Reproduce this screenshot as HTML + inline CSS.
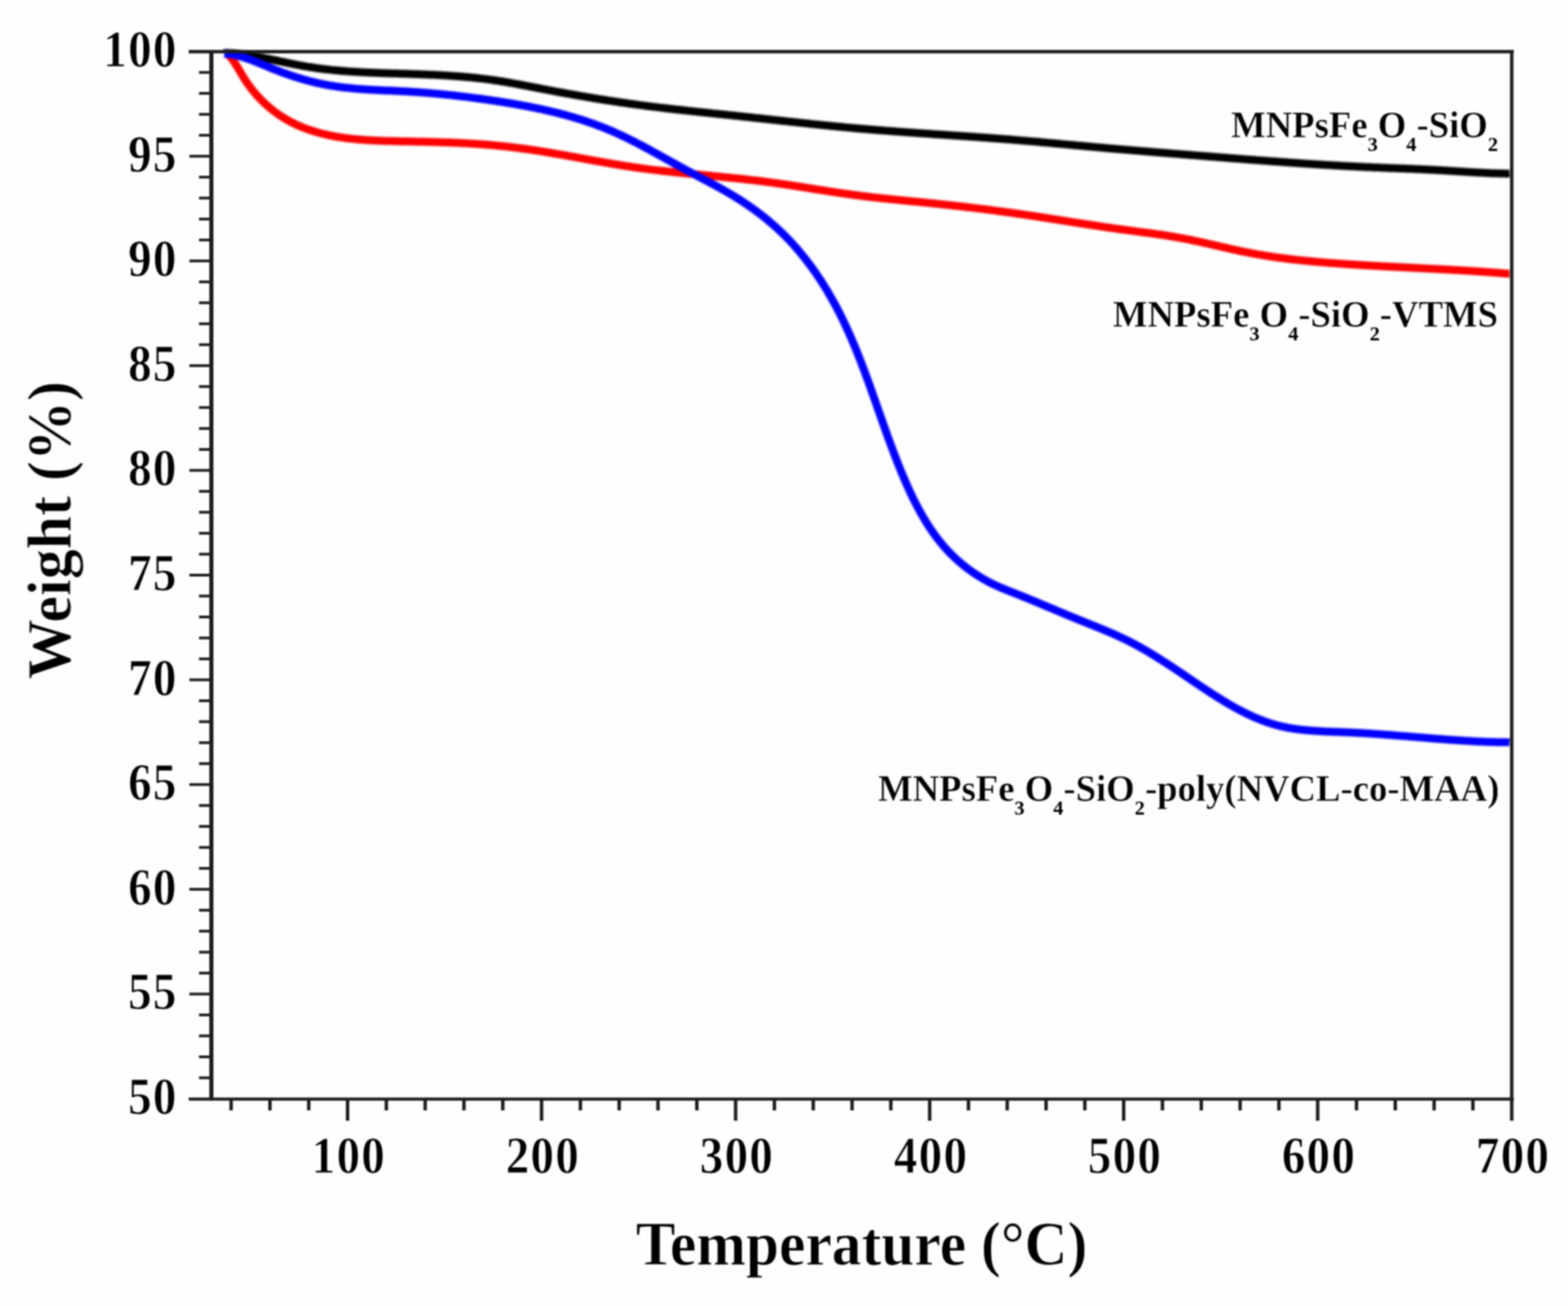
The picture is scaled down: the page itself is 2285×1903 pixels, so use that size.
<!DOCTYPE html>
<html><head><meta charset="utf-8"><title>TGA</title>
<style>html,body{margin:0;padding:0;background:#fefefe;overflow:hidden}svg{display:block}</style>
</head><body>
<svg width="2285" height="1903" viewBox="0 0 2285 1903">
<rect width="2285" height="1903" fill="#fefefe"/>
<defs><filter id="soft" x="-2%" y="-2%" width="104%" height="104%" color-interpolation-filters="sRGB"><feGaussianBlur stdDeviation="0.9"/></filter><filter id="soft2" x="-2%" y="-2%" width="104%" height="104%" color-interpolation-filters="sRGB"><feGaussianBlur stdDeviation="1.3"/></filter></defs>
<g filter="url(#soft)">
<g filter="url(#soft2)">
<path d="M327.0,77.8 L328.8,77.1 L330.8,77.2 L332.8,77.3 L334.8,77.4 L336.7,77.5 L338.7,77.7 L340.7,77.8 L342.7,78.0 L344.7,78.2 L346.6,78.4 L348.6,78.6 L350.6,78.9 L352.6,79.1 L354.5,79.4 L356.5,79.6 L358.5,79.9 L360.5,80.2 L362.5,80.5 L364.4,80.8 L366.4,81.1 L368.4,81.5 L370.4,81.8 L372.3,82.2 L374.3,82.5 L376.3,82.9 L378.3,83.2 L380.3,83.6 L382.2,84.0 L384.2,84.4 L386.2,84.8 L388.2,85.2 L390.1,85.6 L392.1,86.0 L394.1,86.4 L396.1,86.8 L398.1,87.2 L400.0,87.6 L402.0,88.0 L404.0,88.4 L406.0,88.9 L407.9,89.3 L409.9,89.7 L411.9,90.1 L413.9,90.5 L415.9,90.9 L417.8,91.4 L419.8,91.8 L421.8,92.2 L423.8,92.6 L425.8,93.0 L427.7,93.4 L429.7,93.8 L431.7,94.2 L433.7,94.6 L435.6,94.9 L437.6,95.3 L439.6,95.7 L441.6,96.0 L443.6,96.4 L445.5,96.7 L447.5,97.1 L449.5,97.4 L451.5,97.7 L453.5,98.0 L455.4,98.3 L457.4,98.6 L459.4,98.9 L461.4,99.2 L463.3,99.5 L465.3,99.7 L467.3,100.0 L469.3,100.3 L471.3,100.5 L473.2,100.7 L475.2,101.0 L477.2,101.2 L479.2,101.4 L481.2,101.6 L483.1,101.9 L485.1,102.1 L487.1,102.3 L489.1,102.5 L491.1,102.6 L493.0,102.8 L495.0,103.0 L497.0,103.2 L499.0,103.3 L501.0,103.5 L502.9,103.6 L504.9,103.8 L506.9,103.9 L508.9,104.1 L510.9,104.2 L512.8,104.4 L514.8,104.5 L516.8,104.6 L518.8,104.7 L520.8,104.8 L522.7,105.0 L524.7,105.1 L526.7,105.2 L528.7,105.3 L530.7,105.4 L532.6,105.5 L534.6,105.6 L536.6,105.7 L538.6,105.8 L540.6,105.8 L542.5,105.9 L544.5,106.0 L546.5,106.1 L548.5,106.2 L550.5,106.2 L552.4,106.3 L554.4,106.4 L556.4,106.5 L558.4,106.5 L560.4,106.6 L562.3,106.7 L564.3,106.7 L566.3,106.8 L568.3,106.8 L570.3,106.9 L572.2,107.0 L574.2,107.0 L576.2,107.1 L578.2,107.1 L580.2,107.2 L582.1,107.3 L584.1,107.3 L586.1,107.4 L588.1,107.4 L590.1,107.5 L592.0,107.6 L594.0,107.6 L596.0,107.7 L598.0,107.8 L600.0,107.8 L601.9,107.9 L603.9,108.0 L605.9,108.0 L607.9,108.1 L609.9,108.2 L611.9,108.2 L613.8,108.3 L615.8,108.4 L617.8,108.5 L619.8,108.5 L621.8,108.6 L623.7,108.7 L625.7,108.8 L627.7,108.9 L629.7,109.0 L631.7,109.0 L633.6,109.1 L635.6,109.2 L637.6,109.3 L639.6,109.4 L641.6,109.5 L643.6,109.6 L645.5,109.8 L647.5,109.9 L649.5,110.0 L651.5,110.1 L653.5,110.2 L655.4,110.4 L657.4,110.5 L659.4,110.6 L661.4,110.8 L663.4,110.9 L665.4,111.0 L667.3,111.2 L669.3,111.3 L671.3,111.5 L673.3,111.7 L675.3,111.8 L677.2,112.0 L679.2,112.2 L681.2,112.3 L683.2,112.5 L685.2,112.7 L687.2,112.9 L689.1,113.1 L691.1,113.3 L693.1,113.5 L695.1,113.7 L697.1,113.9 L699.0,114.2 L701.0,114.4 L703.0,114.6 L705.0,114.9 L707.0,115.1 L709.0,115.3 L710.9,115.6 L712.9,115.9 L714.9,116.1 L716.9,116.4 L718.9,116.7 L720.8,117.0 L722.8,117.3 L724.8,117.6 L726.8,117.9 L728.8,118.2 L730.8,118.5 L732.7,118.8 L734.7,119.1 L736.7,119.5 L738.7,119.8 L740.7,120.2 L742.7,120.5 L744.6,120.9 L746.6,121.2 L748.6,121.6 L750.6,121.9 L752.6,122.3 L754.6,122.7 L756.5,123.0 L758.5,123.4 L760.5,123.8 L762.5,124.2 L764.5,124.6 L766.5,124.9 L768.4,125.3 L770.4,125.7 L772.4,126.1 L774.4,126.5 L776.4,126.9 L778.3,127.2 L780.3,127.6 L782.3,128.0 L784.3,128.4 L786.3,128.8 L788.3,129.2 L790.2,129.6 L792.2,129.9 L794.2,130.3 L796.2,130.7 L798.2,131.1 L800.2,131.4 L802.1,131.8 L804.1,132.2 L806.1,132.6 L808.1,132.9 L810.1,133.3 L812.1,133.7 L814.1,134.0 L816.0,134.4 L818.0,134.8 L820.0,135.1 L822.0,135.5 L824.0,135.9 L826.0,136.2 L827.9,136.6 L829.9,136.9 L831.9,137.3 L833.9,137.6 L835.9,138.0 L837.9,138.3 L839.8,138.7 L841.8,139.0 L843.8,139.4 L845.8,139.7 L847.8,140.1 L849.8,140.4 L851.7,140.7 L853.7,141.1 L855.7,141.4 L857.7,141.8 L859.7,142.1 L861.7,142.4 L863.6,142.8 L865.6,143.1 L867.6,143.4 L869.6,143.7 L871.6,144.1 L873.6,144.4 L875.6,144.7 L877.5,145.0 L879.5,145.3 L881.5,145.6 L883.5,146.0 L885.5,146.3 L887.5,146.6 L889.4,146.9 L891.4,147.2 L893.4,147.5 L895.4,147.8 L897.4,148.1 L899.4,148.4 L901.4,148.7 L903.3,149.0 L905.3,149.3 L907.3,149.6 L909.3,149.8 L911.3,150.1 L913.3,150.4 L915.2,150.7 L917.2,151.0 L919.2,151.2 L921.2,151.5 L923.2,151.8 L925.2,152.1 L927.2,152.3 L929.1,152.6 L931.1,152.9 L933.1,153.1 L935.1,153.4 L937.1,153.6 L939.1,153.9 L941.1,154.2 L943.0,154.4 L945.0,154.7 L947.0,154.9 L949.0,155.2 L951.0,155.4 L953.0,155.7 L954.9,155.9 L956.9,156.1 L958.9,156.4 L960.9,156.6 L962.9,156.9 L964.9,157.1 L966.9,157.3 L968.8,157.6 L970.8,157.8 L972.8,158.0 L974.8,158.3 L976.8,158.5 L978.8,158.7 L980.8,158.9 L982.7,159.2 L984.7,159.4 L986.7,159.6 L988.7,159.8 L990.7,160.1 L992.7,160.3 L994.7,160.5 L996.6,160.7 L998.6,160.9 L1000.6,161.1 L1002.6,161.4 L1004.6,161.6 L1006.6,161.8 L1008.6,162.0 L1010.5,162.2 L1012.5,162.4 L1014.5,162.6 L1016.5,162.9 L1018.5,163.1 L1020.5,163.3 L1022.5,163.5 L1024.5,163.7 L1026.4,163.9 L1028.4,164.1 L1030.4,164.3 L1032.4,164.5 L1034.4,164.7 L1036.4,164.9 L1038.4,165.2 L1040.3,165.4 L1042.3,165.6 L1044.3,165.8 L1046.3,166.0 L1048.3,166.2 L1050.3,166.4 L1052.3,166.6 L1054.2,166.8 L1056.2,167.0 L1058.2,167.2 L1060.2,167.4 L1062.2,167.6 L1064.2,167.9 L1066.2,168.1 L1068.2,168.3 L1070.1,168.5 L1072.1,168.7 L1074.1,168.9 L1076.1,169.1 L1078.1,169.3 L1080.1,169.5 L1082.1,169.7 L1084.0,170.0 L1086.0,170.2 L1088.0,170.4 L1090.0,170.6 L1092.0,170.8 L1094.0,171.0 L1096.0,171.2 L1098.0,171.5 L1099.9,171.7 L1101.9,171.9 L1103.9,172.1 L1105.9,172.3 L1107.9,172.5 L1109.9,172.7 L1111.9,173.0 L1113.9,173.2 L1115.8,173.4 L1117.8,173.6 L1119.8,173.8 L1121.8,174.0 L1123.8,174.3 L1125.8,174.5 L1127.8,174.7 L1129.8,174.9 L1131.7,175.1 L1133.7,175.3 L1135.7,175.6 L1137.7,175.8 L1139.7,176.0 L1141.7,176.2 L1143.7,176.4 L1145.7,176.6 L1147.6,176.9 L1149.6,177.1 L1151.6,177.3 L1153.6,177.5 L1155.6,177.7 L1157.6,177.9 L1159.6,178.1 L1161.6,178.3 L1163.5,178.6 L1165.5,178.8 L1167.5,179.0 L1169.5,179.2 L1171.5,179.4 L1173.5,179.6 L1175.5,179.8 L1177.5,180.0 L1179.4,180.2 L1181.4,180.5 L1183.4,180.7 L1185.4,180.9 L1187.4,181.1 L1189.4,181.3 L1191.4,181.5 L1193.4,181.7 L1195.3,181.9 L1197.3,182.1 L1199.3,182.3 L1201.3,182.5 L1203.3,182.7 L1205.3,182.9 L1207.3,183.1 L1209.3,183.3 L1211.3,183.5 L1213.2,183.7 L1215.2,183.9 L1217.2,184.1 L1219.2,184.3 L1221.2,184.5 L1223.2,184.6 L1225.2,184.8 L1227.2,185.0 L1229.1,185.2 L1231.1,185.4 L1233.1,185.6 L1235.1,185.8 L1237.1,185.9 L1239.1,186.1 L1241.1,186.3 L1243.1,186.5 L1245.1,186.7 L1247.0,186.8 L1249.0,187.0 L1251.0,187.2 L1253.0,187.4 L1255.0,187.5 L1257.0,187.7 L1259.0,187.9 L1261.0,188.0 L1263.0,188.2 L1264.9,188.4 L1266.9,188.5 L1268.9,188.7 L1270.9,188.9 L1272.9,189.0 L1274.9,189.2 L1276.9,189.3 L1278.9,189.5 L1280.9,189.7 L1282.8,189.8 L1284.8,190.0 L1286.8,190.1 L1288.8,190.3 L1290.8,190.4 L1292.8,190.6 L1294.8,190.7 L1296.8,190.9 L1298.8,191.0 L1300.8,191.2 L1302.7,191.3 L1304.7,191.5 L1306.7,191.6 L1308.7,191.8 L1310.7,191.9 L1312.7,192.1 L1314.7,192.2 L1316.7,192.4 L1318.7,192.5 L1320.6,192.6 L1322.6,192.8 L1324.6,192.9 L1326.6,193.1 L1328.6,193.2 L1330.6,193.3 L1332.6,193.5 L1334.6,193.6 L1336.6,193.8 L1338.6,193.9 L1340.5,194.0 L1342.5,194.2 L1344.5,194.3 L1346.5,194.4 L1348.5,194.6 L1350.5,194.7 L1352.5,194.8 L1354.5,195.0 L1356.5,195.1 L1358.5,195.3 L1360.4,195.4 L1362.4,195.5 L1364.4,195.7 L1366.4,195.8 L1368.4,195.9 L1370.4,196.1 L1372.4,196.2 L1374.4,196.3 L1376.4,196.5 L1378.4,196.6 L1380.3,196.7 L1382.3,196.9 L1384.3,197.0 L1386.3,197.1 L1388.3,197.3 L1390.3,197.4 L1392.3,197.5 L1394.3,197.7 L1396.3,197.8 L1398.3,197.9 L1400.2,198.1 L1402.2,198.2 L1404.2,198.4 L1406.2,198.5 L1408.2,198.6 L1410.2,198.8 L1412.2,198.9 L1414.2,199.0 L1416.2,199.2 L1418.2,199.3 L1420.2,199.5 L1422.1,199.6 L1424.1,199.7 L1426.1,199.9 L1428.1,200.0 L1430.1,200.2 L1432.1,200.3 L1434.1,200.4 L1436.1,200.6 L1438.1,200.7 L1440.1,200.9 L1442.1,201.0 L1444.0,201.2 L1446.0,201.3 L1448.0,201.5 L1450.0,201.6 L1452.0,201.8 L1454.0,201.9 L1456.0,202.1 L1458.0,202.2 L1460.0,202.4 L1462.0,202.5 L1464.0,202.7 L1465.9,202.8 L1467.9,203.0 L1469.9,203.1 L1471.9,203.3 L1473.9,203.5 L1475.9,203.6 L1477.9,203.8 L1479.9,203.9 L1481.9,204.1 L1483.9,204.3 L1485.9,204.4 L1487.8,204.6 L1489.8,204.8 L1491.8,204.9 L1493.8,205.1 L1495.8,205.3 L1497.8,205.4 L1499.8,205.6 L1501.8,205.8 L1503.8,205.9 L1505.8,206.1 L1507.8,206.3 L1509.8,206.5 L1511.7,206.6 L1513.7,206.8 L1515.7,207.0 L1517.7,207.2 L1519.7,207.4 L1521.7,207.5 L1523.7,207.7 L1525.7,207.9 L1527.7,208.1 L1529.7,208.3 L1531.7,208.4 L1533.7,208.6 L1535.6,208.8 L1537.6,209.0 L1539.6,209.2 L1541.6,209.3 L1543.6,209.5 L1545.6,209.7 L1547.6,209.9 L1549.6,210.1 L1551.6,210.3 L1553.6,210.4 L1555.6,210.6 L1557.6,210.8 L1559.6,211.0 L1561.5,211.2 L1563.5,211.4 L1565.5,211.5 L1567.5,211.7 L1569.5,211.9 L1571.5,212.1 L1573.5,212.3 L1575.5,212.5 L1577.5,212.6 L1579.5,212.8 L1581.5,213.0 L1583.5,213.2 L1585.5,213.4 L1587.4,213.5 L1589.4,213.7 L1591.4,213.9 L1593.4,214.1 L1595.4,214.3 L1597.4,214.4 L1599.4,214.6 L1601.4,214.8 L1603.4,215.0 L1605.4,215.1 L1607.4,215.3 L1609.4,215.5 L1611.4,215.7 L1613.3,215.9 L1615.3,216.0 L1617.3,216.2 L1619.3,216.4 L1621.3,216.5 L1623.3,216.7 L1625.3,216.9 L1627.3,217.1 L1629.3,217.2 L1631.3,217.4 L1633.3,217.6 L1635.3,217.7 L1637.3,217.9 L1639.3,218.1 L1641.2,218.2 L1643.2,218.4 L1645.2,218.6 L1647.2,218.7 L1649.2,218.9 L1651.2,219.1 L1653.2,219.2 L1655.2,219.4 L1657.2,219.6 L1659.2,219.7 L1661.2,219.9 L1663.2,220.1 L1665.2,220.2 L1667.2,220.4 L1669.1,220.6 L1671.1,220.7 L1673.1,220.9 L1675.1,221.0 L1677.1,221.2 L1679.1,221.4 L1681.1,221.5 L1683.1,221.7 L1685.1,221.9 L1687.1,222.0 L1689.1,222.2 L1691.1,222.3 L1693.1,222.5 L1695.1,222.7 L1697.1,222.8 L1699.1,223.0 L1701.0,223.1 L1703.0,223.3 L1705.0,223.5 L1707.0,223.6 L1709.0,223.8 L1711.0,223.9 L1713.0,224.1 L1715.0,224.2 L1717.0,224.4 L1719.0,224.6 L1721.0,224.7 L1723.0,224.9 L1725.0,225.0 L1727.0,225.2 L1729.0,225.3 L1731.0,225.5 L1732.9,225.7 L1734.9,225.8 L1736.9,226.0 L1738.9,226.1 L1740.9,226.3 L1742.9,226.4 L1744.9,226.6 L1746.9,226.8 L1748.9,226.9 L1750.9,227.1 L1752.9,227.2 L1754.9,227.4 L1756.9,227.5 L1758.9,227.7 L1760.9,227.9 L1762.9,228.0 L1764.9,228.2 L1766.8,228.3 L1768.8,228.5 L1770.8,228.6 L1772.8,228.8 L1774.8,229.0 L1776.8,229.1 L1778.8,229.3 L1780.8,229.4 L1782.8,229.6 L1784.8,229.7 L1786.8,229.9 L1788.8,230.0 L1790.8,230.2 L1792.8,230.4 L1794.8,230.5 L1796.8,230.7 L1798.8,230.8 L1800.7,231.0 L1802.7,231.1 L1804.7,231.3 L1806.7,231.4 L1808.7,231.6 L1810.7,231.7 L1812.7,231.9 L1814.7,232.1 L1816.7,232.2 L1818.7,232.4 L1820.7,232.5 L1822.7,232.7 L1824.7,232.8 L1826.7,233.0 L1828.7,233.1 L1830.7,233.3 L1832.7,233.4 L1834.7,233.6 L1836.7,233.7 L1838.7,233.9 L1840.6,234.0 L1842.6,234.2 L1844.6,234.3 L1846.6,234.5 L1848.6,234.6 L1850.6,234.8 L1852.6,234.9 L1854.6,235.0 L1856.6,235.2 L1858.6,235.3 L1860.6,235.5 L1862.6,235.6 L1864.6,235.8 L1866.6,235.9 L1868.6,236.1 L1870.6,236.2 L1872.6,236.3 L1874.6,236.5 L1876.6,236.6 L1878.6,236.8 L1880.5,236.9 L1882.5,237.0 L1884.5,237.2 L1886.5,237.3 L1888.5,237.5 L1890.5,237.6 L1892.5,237.7 L1894.5,237.9 L1896.5,238.0 L1898.5,238.1 L1900.5,238.3 L1902.5,238.4 L1904.5,238.5 L1906.5,238.7 L1908.5,238.8 L1910.5,238.9 L1912.5,239.0 L1914.5,239.2 L1916.5,239.3 L1918.5,239.4 L1920.5,239.5 L1922.5,239.7 L1924.5,239.8 L1926.4,239.9 L1928.4,240.0 L1930.4,240.2 L1932.4,240.3 L1934.4,240.4 L1936.4,240.5 L1938.4,240.6 L1940.4,240.8 L1942.4,240.9 L1944.4,241.0 L1946.4,241.1 L1948.4,241.2 L1950.4,241.3 L1952.4,241.4 L1954.4,241.5 L1956.4,241.7 L1958.4,241.8 L1960.4,241.9 L1962.4,242.0 L1964.4,242.1 L1966.4,242.2 L1968.4,242.3 L1970.4,242.4 L1972.4,242.5 L1974.4,242.6 L1976.3,242.7 L1978.3,242.8 L1980.3,242.9 L1982.3,243.0 L1984.3,243.1 L1986.3,243.2 L1988.3,243.3 L1990.3,243.4 L1992.3,243.5 L1994.3,243.5 L1996.3,243.6 L1998.3,243.7 L2000.3,243.8 L2002.3,243.9 L2004.3,244.0 L2006.3,244.1 L2008.3,244.1 L2010.3,244.2 L2012.3,244.3 L2014.3,244.4 L2016.3,244.5 L2018.3,244.5 L2020.3,244.6 L2022.3,244.7 L2024.3,244.8 L2026.3,244.9 L2028.3,244.9 L2030.3,245.0 L2032.3,245.1 L2034.2,245.2 L2036.2,245.2 L2038.2,245.3 L2040.2,245.4 L2042.2,245.5 L2044.2,245.6 L2046.2,245.6 L2048.2,245.7 L2050.2,245.8 L2052.2,245.9 L2054.2,246.0 L2056.2,246.0 L2058.2,246.1 L2060.2,246.2 L2062.2,246.3 L2064.2,246.4 L2066.2,246.5 L2068.2,246.5 L2070.2,246.6 L2072.2,246.7 L2074.2,246.8 L2076.2,246.9 L2078.2,247.0 L2080.2,247.1 L2082.2,247.2 L2084.2,247.3 L2086.2,247.4 L2088.2,247.5 L2090.2,247.6 L2092.2,247.7 L2094.2,247.8 L2096.2,247.9 L2098.2,248.0 L2100.2,248.1 L2102.1,248.3 L2104.1,248.4 L2106.1,248.5 L2108.1,248.6 L2110.1,248.7 L2112.1,248.9 L2114.1,249.0 L2116.1,249.1 L2118.1,249.2 L2120.1,249.4 L2122.1,249.5 L2124.1,249.6 L2126.1,249.7 L2128.1,249.9 L2130.1,250.0 L2132.1,250.1 L2134.1,250.2 L2136.1,250.4 L2138.1,250.5 L2140.1,250.6 L2142.1,250.7 L2144.1,250.9 L2146.1,251.0 L2148.1,251.1 L2150.1,251.2 L2152.1,251.3 L2154.1,251.4 L2156.1,251.5 L2158.1,251.6 L2160.1,251.7 L2162.1,251.8 L2164.1,251.9 L2166.1,252.0 L2168.1,252.1 L2170.1,252.2 L2172.1,252.3 L2174.1,252.4 L2176.1,252.4 L2178.1,252.5 L2180.1,252.6 L2182.1,252.6 L2184.1,252.7 L2186.1,252.7 L2188.1,252.8 L2190.1,252.8 L2192.1,252.8 L2194.0,252.9 L2196.0,252.9 L2198.0,252.9 L2200.0,252.7" fill="none" stroke="#000000" stroke-width="11.5" stroke-linecap="butt" stroke-linejoin="round"/>
<path d="M329.0,78.8 L331.6,78.3 L333.0,79.9 L334.4,81.5 L335.8,83.1 L337.0,84.7 L338.3,86.3 L339.5,87.9 L340.6,89.5 L341.8,91.2 L342.9,92.8 L343.9,94.5 L345.0,96.1 L346.0,97.8 L347.0,99.4 L348.0,101.1 L349.0,102.8 L350.0,104.4 L351.0,106.1 L351.9,107.7 L352.9,109.4 L353.9,111.1 L354.9,112.7 L355.9,114.4 L357.0,116.0 L358.0,117.7 L359.1,119.3 L360.2,121.0 L361.4,122.6 L362.6,124.2 L363.7,125.9 L365.0,127.5 L366.2,129.1 L367.4,130.7 L368.7,132.2 L370.0,133.8 L371.3,135.4 L372.7,136.9 L374.0,138.5 L375.4,140.0 L376.8,141.5 L378.2,143.0 L379.6,144.5 L381.1,146.0 L382.5,147.4 L384.0,148.9 L385.5,150.3 L387.0,151.7 L388.5,153.0 L390.1,154.4 L391.6,155.8 L393.2,157.1 L394.7,158.4 L396.3,159.7 L397.9,160.9 L399.5,162.1 L401.1,163.4 L402.7,164.5 L404.3,165.7 L406.0,166.8 L407.6,168.0 L409.3,169.1 L410.9,170.1 L412.6,171.2 L414.2,172.2 L415.9,173.2 L417.6,174.2 L419.3,175.2 L421.0,176.1 L422.7,177.1 L424.5,178.0 L426.2,178.8 L427.9,179.7 L429.7,180.6 L431.4,181.4 L433.2,182.2 L434.9,183.0 L436.7,183.8 L438.5,184.5 L440.3,185.3 L442.1,186.0 L443.9,186.7 L445.7,187.4 L447.5,188.0 L449.3,188.7 L451.1,189.3 L453.0,189.9 L454.8,190.5 L456.7,191.1 L458.5,191.7 L460.4,192.2 L462.2,192.8 L464.1,193.3 L466.0,193.8 L467.8,194.3 L469.7,194.8 L471.6,195.2 L473.5,195.7 L475.4,196.1 L477.3,196.6 L479.2,197.0 L481.1,197.4 L483.1,197.7 L485.0,198.1 L486.9,198.5 L488.8,198.8 L490.8,199.2 L492.7,199.5 L494.7,199.8 L496.6,200.1 L498.6,200.4 L500.5,200.7 L502.5,200.9 L504.4,201.2 L506.4,201.5 L508.4,201.7 L510.4,201.9 L512.3,202.1 L514.3,202.4 L516.3,202.6 L518.3,202.8 L520.3,202.9 L522.3,203.1 L524.3,203.3 L526.3,203.5 L528.3,203.6 L530.3,203.8 L532.3,203.9 L534.3,204.0 L536.3,204.2 L538.3,204.3 L540.3,204.4 L542.3,204.5 L544.3,204.6 L546.4,204.7 L548.4,204.8 L550.4,204.9 L552.4,205.0 L554.4,205.1 L556.5,205.2 L558.5,205.2 L560.5,205.3 L562.5,205.4 L564.6,205.4 L566.6,205.5 L568.6,205.5 L570.7,205.6 L572.7,205.6 L574.7,205.7 L576.8,205.7 L578.8,205.8 L580.8,205.8 L582.9,205.9 L584.9,205.9 L586.9,205.9 L588.9,206.0 L591.0,206.0 L593.0,206.1 L595.0,206.1 L597.1,206.1 L599.1,206.2 L601.1,206.2 L603.1,206.3 L605.2,206.3 L607.2,206.4 L609.2,206.4 L611.2,206.4 L613.3,206.5 L615.3,206.5 L617.3,206.6 L619.3,206.6 L621.4,206.7 L623.4,206.7 L625.4,206.8 L627.4,206.8 L629.4,206.9 L631.5,206.9 L633.5,207.0 L635.5,207.1 L637.5,207.1 L639.5,207.2 L641.5,207.2 L643.6,207.3 L645.6,207.4 L647.6,207.4 L649.6,207.5 L651.6,207.6 L653.6,207.6 L655.6,207.7 L657.6,207.8 L659.7,207.9 L661.7,208.0 L663.7,208.1 L665.7,208.1 L667.7,208.2 L669.7,208.3 L671.7,208.4 L673.7,208.5 L675.7,208.6 L677.7,208.7 L679.7,208.8 L681.7,208.9 L683.7,209.1 L685.8,209.2 L687.8,209.3 L689.8,209.4 L691.8,209.5 L693.8,209.7 L695.8,209.8 L697.8,209.9 L699.8,210.1 L701.8,210.2 L703.8,210.4 L705.8,210.5 L707.8,210.7 L709.8,210.8 L711.8,211.0 L713.8,211.2 L715.8,211.3 L717.8,211.5 L719.8,211.7 L721.8,211.9 L723.8,212.1 L725.8,212.3 L727.8,212.5 L729.7,212.7 L731.7,212.9 L733.7,213.1 L735.7,213.3 L737.7,213.5 L739.7,213.7 L741.7,214.0 L743.7,214.2 L745.7,214.4 L747.7,214.7 L749.7,214.9 L751.7,215.2 L753.7,215.4 L755.7,215.7 L757.6,215.9 L759.6,216.2 L761.6,216.5 L763.6,216.7 L765.6,217.0 L767.6,217.3 L769.6,217.6 L771.6,217.8 L773.6,218.1 L775.5,218.4 L777.5,218.7 L779.5,219.0 L781.5,219.3 L783.5,219.6 L785.5,219.9 L787.5,220.3 L789.5,220.6 L791.4,220.9 L793.4,221.2 L795.4,221.5 L797.4,221.9 L799.4,222.2 L801.4,222.5 L803.3,222.8 L805.3,223.2 L807.3,223.5 L809.3,223.9 L811.3,224.2 L813.3,224.5 L815.3,224.9 L817.2,225.2 L819.2,225.6 L821.2,225.9 L823.2,226.3 L825.2,226.6 L827.1,227.0 L829.1,227.4 L831.1,227.7 L833.1,228.1 L835.1,228.4 L837.1,228.8 L839.0,229.1 L841.0,229.5 L843.0,229.9 L845.0,230.2 L847.0,230.6 L848.9,230.9 L850.9,231.3 L852.9,231.7 L854.9,232.0 L856.9,232.4 L858.8,232.7 L860.8,233.1 L862.8,233.5 L864.8,233.8 L866.7,234.2 L868.7,234.5 L870.7,234.9 L872.7,235.2 L874.7,235.6 L876.6,235.9 L878.6,236.3 L880.6,236.6 L882.6,237.0 L884.6,237.3 L886.5,237.7 L888.5,238.0 L890.5,238.4 L892.5,238.7 L894.4,239.0 L896.4,239.4 L898.4,239.7 L900.4,240.0 L902.4,240.3 L904.3,240.7 L906.3,241.0 L908.3,241.3 L910.3,241.6 L912.2,241.9 L914.2,242.2 L916.2,242.5 L918.2,242.8 L920.2,243.1 L922.1,243.4 L924.1,243.7 L926.1,244.0 L928.1,244.3 L930.0,244.5 L932.0,244.8 L934.0,245.1 L936.0,245.3 L938.0,245.6 L939.9,245.9 L941.9,246.1 L943.9,246.4 L945.9,246.6 L947.8,246.9 L949.8,247.1 L951.8,247.4 L953.8,247.6 L955.8,247.9 L957.7,248.1 L959.7,248.3 L961.7,248.6 L963.7,248.8 L965.6,249.0 L967.6,249.2 L969.6,249.5 L971.6,249.7 L973.5,249.9 L975.5,250.1 L977.5,250.3 L979.5,250.5 L981.5,250.7 L983.4,251.0 L985.4,251.2 L987.4,251.4 L989.4,251.6 L991.3,251.8 L993.3,252.0 L995.3,252.2 L997.3,252.4 L999.3,252.6 L1001.2,252.8 L1003.2,253.0 L1005.2,253.2 L1007.2,253.4 L1009.1,253.6 L1011.1,253.7 L1013.1,253.9 L1015.1,254.1 L1017.1,254.3 L1019.0,254.5 L1021.0,254.7 L1023.0,254.9 L1025.0,255.1 L1026.9,255.3 L1028.9,255.5 L1030.9,255.7 L1032.9,255.8 L1034.9,256.0 L1036.8,256.2 L1038.8,256.4 L1040.8,256.6 L1042.8,256.8 L1044.7,257.0 L1046.7,257.2 L1048.7,257.4 L1050.7,257.6 L1052.7,257.8 L1054.6,258.0 L1056.6,258.2 L1058.6,258.4 L1060.6,258.6 L1062.5,258.8 L1064.5,259.0 L1066.5,259.2 L1068.5,259.4 L1070.5,259.6 L1072.4,259.8 L1074.4,260.0 L1076.4,260.2 L1078.4,260.4 L1080.3,260.6 L1082.3,260.8 L1084.3,261.0 L1086.3,261.3 L1088.3,261.5 L1090.2,261.7 L1092.2,261.9 L1094.2,262.2 L1096.2,262.4 L1098.1,262.6 L1100.1,262.8 L1102.1,263.1 L1104.1,263.3 L1106.1,263.6 L1108.0,263.8 L1110.0,264.1 L1112.0,264.3 L1114.0,264.6 L1115.9,264.8 L1117.9,265.1 L1119.9,265.3 L1121.9,265.6 L1123.9,265.9 L1125.8,266.1 L1127.8,266.4 L1129.8,266.7 L1131.8,267.0 L1133.7,267.2 L1135.7,267.5 L1137.7,267.8 L1139.7,268.1 L1141.7,268.4 L1143.6,268.7 L1145.6,269.0 L1147.6,269.3 L1149.6,269.6 L1151.5,269.9 L1153.5,270.2 L1155.5,270.5 L1157.5,270.8 L1159.5,271.1 L1161.4,271.4 L1163.4,271.7 L1165.4,272.0 L1167.4,272.3 L1169.4,272.6 L1171.3,272.9 L1173.3,273.3 L1175.3,273.6 L1177.3,273.9 L1179.2,274.2 L1181.2,274.5 L1183.2,274.8 L1185.2,275.1 L1187.2,275.5 L1189.1,275.8 L1191.1,276.1 L1193.1,276.4 L1195.1,276.7 L1197.0,277.0 L1199.0,277.3 L1201.0,277.6 L1203.0,277.9 L1205.0,278.2 L1206.9,278.6 L1208.9,278.9 L1210.9,279.2 L1212.9,279.5 L1214.8,279.8 L1216.8,280.1 L1218.8,280.4 L1220.8,280.7 L1222.8,281.0 L1224.7,281.2 L1226.7,281.5 L1228.7,281.8 L1230.7,282.1 L1232.7,282.4 L1234.6,282.7 L1236.6,282.9 L1238.6,283.2 L1240.6,283.5 L1242.5,283.8 L1244.5,284.0 L1246.5,284.3 L1248.5,284.5 L1250.5,284.8 L1252.4,285.1 L1254.4,285.3 L1256.4,285.6 L1258.4,285.8 L1260.3,286.0 L1262.3,286.3 L1264.3,286.5 L1266.3,286.8 L1268.3,287.0 L1270.2,287.2 L1272.2,287.4 L1274.2,287.7 L1276.2,287.9 L1278.2,288.1 L1280.1,288.3 L1282.1,288.5 L1284.1,288.8 L1286.1,289.0 L1288.0,289.2 L1290.0,289.4 L1292.0,289.6 L1294.0,289.8 L1296.0,290.0 L1297.9,290.2 L1299.9,290.4 L1301.9,290.6 L1303.9,290.8 L1305.9,291.0 L1307.8,291.2 L1309.8,291.4 L1311.8,291.6 L1313.8,291.8 L1315.7,292.0 L1317.7,292.2 L1319.7,292.4 L1321.7,292.6 L1323.7,292.8 L1325.6,293.0 L1327.6,293.2 L1329.6,293.4 L1331.6,293.5 L1333.5,293.7 L1335.5,293.9 L1337.5,294.1 L1339.5,294.3 L1341.5,294.5 L1343.4,294.7 L1345.4,294.9 L1347.4,295.1 L1349.4,295.3 L1351.4,295.5 L1353.3,295.7 L1355.3,295.9 L1357.3,296.1 L1359.3,296.3 L1361.3,296.5 L1363.2,296.7 L1365.2,296.9 L1367.2,297.1 L1369.2,297.4 L1371.1,297.6 L1373.1,297.8 L1375.1,298.0 L1377.1,298.2 L1379.1,298.4 L1381.0,298.6 L1383.0,298.8 L1385.0,299.1 L1387.0,299.3 L1389.0,299.5 L1390.9,299.7 L1392.9,299.9 L1394.9,300.2 L1396.9,300.4 L1398.8,300.6 L1400.8,300.8 L1402.8,301.0 L1404.8,301.3 L1406.8,301.5 L1408.7,301.7 L1410.7,302.0 L1412.7,302.2 L1414.7,302.4 L1416.7,302.7 L1418.6,302.9 L1420.6,303.1 L1422.6,303.4 L1424.6,303.6 L1426.6,303.9 L1428.5,304.1 L1430.5,304.4 L1432.5,304.6 L1434.5,304.8 L1436.4,305.1 L1438.4,305.3 L1440.4,305.6 L1442.4,305.8 L1444.4,306.1 L1446.3,306.4 L1448.3,306.6 L1450.3,306.9 L1452.3,307.1 L1454.3,307.4 L1456.2,307.7 L1458.2,307.9 L1460.2,308.2 L1462.2,308.5 L1464.2,308.7 L1466.1,309.0 L1468.1,309.3 L1470.1,309.5 L1472.1,309.8 L1474.0,310.1 L1476.0,310.4 L1478.0,310.6 L1480.0,310.9 L1482.0,311.2 L1483.9,311.5 L1485.9,311.8 L1487.9,312.1 L1489.9,312.4 L1491.9,312.6 L1493.8,312.9 L1495.8,313.2 L1497.8,313.5 L1499.8,313.8 L1501.8,314.1 L1503.7,314.4 L1505.7,314.7 L1507.7,315.0 L1509.7,315.3 L1511.7,315.6 L1513.6,315.9 L1515.6,316.2 L1517.6,316.5 L1519.6,316.8 L1521.5,317.1 L1523.5,317.4 L1525.5,317.8 L1527.5,318.1 L1529.5,318.4 L1531.4,318.7 L1533.4,319.0 L1535.4,319.3 L1537.4,319.6 L1539.4,319.9 L1541.3,320.2 L1543.3,320.5 L1545.3,320.8 L1547.3,321.2 L1549.3,321.5 L1551.2,321.8 L1553.2,322.1 L1555.2,322.4 L1557.2,322.7 L1559.2,323.0 L1561.1,323.3 L1563.1,323.6 L1565.1,323.9 L1567.1,324.3 L1569.1,324.6 L1571.0,324.9 L1573.0,325.2 L1575.0,325.5 L1577.0,325.8 L1579.0,326.1 L1580.9,326.4 L1582.9,326.7 L1584.9,327.0 L1586.9,327.3 L1588.9,327.6 L1590.8,327.9 L1592.8,328.2 L1594.8,328.5 L1596.8,328.8 L1598.8,329.1 L1600.7,329.4 L1602.7,329.7 L1604.7,330.0 L1606.7,330.3 L1608.7,330.6 L1610.6,330.9 L1612.6,331.2 L1614.6,331.5 L1616.6,331.7 L1618.6,332.0 L1620.5,332.3 L1622.5,332.6 L1624.5,332.9 L1626.5,333.2 L1628.4,333.4 L1630.4,333.7 L1632.4,334.0 L1634.4,334.3 L1636.4,334.5 L1638.3,334.8 L1640.3,335.1 L1642.3,335.3 L1644.3,335.6 L1646.3,335.8 L1648.2,336.1 L1650.2,336.4 L1652.2,336.6 L1654.2,336.9 L1656.2,337.1 L1658.1,337.4 L1660.1,337.7 L1662.1,337.9 L1664.1,338.2 L1666.1,338.5 L1668.0,338.7 L1670.0,339.0 L1672.0,339.2 L1674.0,339.5 L1676.0,339.8 L1678.0,340.1 L1679.9,340.3 L1681.9,340.6 L1683.9,340.9 L1685.9,341.2 L1687.9,341.4 L1689.8,341.7 L1691.8,342.0 L1693.8,342.3 L1695.8,342.6 L1697.8,342.9 L1699.7,343.2 L1701.7,343.5 L1703.7,343.9 L1705.7,344.2 L1707.7,344.5 L1709.6,344.8 L1711.6,345.2 L1713.6,345.5 L1715.6,345.9 L1717.6,346.2 L1719.5,346.6 L1721.5,346.9 L1723.5,347.3 L1725.5,347.7 L1727.5,348.1 L1729.4,348.4 L1731.4,348.8 L1733.4,349.2 L1735.4,349.6 L1737.4,350.1 L1739.3,350.5 L1741.3,350.9 L1743.3,351.3 L1745.3,351.7 L1747.3,352.2 L1749.2,352.6 L1751.2,353.0 L1753.2,353.5 L1755.2,353.9 L1757.2,354.3 L1759.1,354.8 L1761.1,355.2 L1763.1,355.7 L1765.1,356.1 L1767.1,356.6 L1769.1,357.1 L1771.0,357.5 L1773.0,358.0 L1775.0,358.4 L1777.0,358.9 L1779.0,359.3 L1780.9,359.8 L1782.9,360.3 L1784.9,360.7 L1786.9,361.2 L1788.9,361.6 L1790.8,362.1 L1792.8,362.5 L1794.8,363.0 L1796.8,363.4 L1798.8,363.8 L1800.7,364.3 L1802.7,364.7 L1804.7,365.1 L1806.7,365.6 L1808.7,366.0 L1810.7,366.4 L1812.6,366.8 L1814.6,367.2 L1816.6,367.6 L1818.6,368.0 L1820.6,368.4 L1822.5,368.8 L1824.5,369.1 L1826.5,369.5 L1828.5,369.9 L1830.5,370.2 L1832.4,370.6 L1834.4,370.9 L1836.4,371.3 L1838.4,371.6 L1840.4,371.9 L1842.3,372.3 L1844.3,372.6 L1846.3,372.9 L1848.3,373.2 L1850.3,373.5 L1852.3,373.8 L1854.2,374.1 L1856.2,374.4 L1858.2,374.7 L1860.2,375.0 L1862.2,375.2 L1864.1,375.5 L1866.1,375.8 L1868.1,376.0 L1870.1,376.3 L1872.1,376.5 L1874.0,376.8 L1876.0,377.0 L1878.0,377.3 L1880.0,377.5 L1882.0,377.8 L1884.0,378.0 L1885.9,378.2 L1887.9,378.4 L1889.9,378.6 L1891.9,378.9 L1893.9,379.1 L1895.8,379.3 L1897.8,379.5 L1899.8,379.7 L1901.8,379.9 L1903.8,380.1 L1905.8,380.3 L1907.7,380.5 L1909.7,380.7 L1911.7,380.8 L1913.7,381.0 L1915.7,381.2 L1917.6,381.4 L1919.6,381.6 L1921.6,381.7 L1923.6,381.9 L1925.6,382.1 L1927.6,382.2 L1929.5,382.4 L1931.5,382.6 L1933.5,382.7 L1935.5,382.9 L1937.5,383.0 L1939.4,383.2 L1941.4,383.3 L1943.4,383.5 L1945.4,383.6 L1947.4,383.8 L1949.4,383.9 L1951.3,384.1 L1953.3,384.2 L1955.3,384.3 L1957.3,384.5 L1959.3,384.6 L1961.2,384.8 L1963.2,384.9 L1965.2,385.0 L1967.2,385.2 L1969.2,385.3 L1971.2,385.4 L1973.1,385.5 L1975.1,385.7 L1977.1,385.8 L1979.1,385.9 L1981.1,386.0 L1983.0,386.2 L1985.0,386.3 L1987.0,386.4 L1989.0,386.5 L1991.0,386.6 L1993.0,386.7 L1994.9,386.9 L1996.9,387.0 L1998.9,387.1 L2000.9,387.2 L2002.9,387.3 L2004.9,387.4 L2006.8,387.5 L2008.8,387.6 L2010.8,387.8 L2012.8,387.9 L2014.8,388.0 L2016.7,388.1 L2018.7,388.2 L2020.7,388.3 L2022.7,388.4 L2024.7,388.5 L2026.7,388.6 L2028.6,388.7 L2030.6,388.8 L2032.6,388.9 L2034.6,389.0 L2036.6,389.1 L2038.6,389.2 L2040.5,389.3 L2042.5,389.4 L2044.5,389.5 L2046.5,389.6 L2048.5,389.7 L2050.5,389.8 L2052.4,389.9 L2054.4,390.0 L2056.4,390.1 L2058.4,390.2 L2060.4,390.3 L2062.3,390.4 L2064.3,390.5 L2066.3,390.6 L2068.3,390.7 L2070.3,390.8 L2072.3,390.9 L2074.2,391.0 L2076.2,391.1 L2078.2,391.2 L2080.2,391.3 L2082.2,391.4 L2084.2,391.5 L2086.1,391.6 L2088.1,391.7 L2090.1,391.8 L2092.1,391.9 L2094.1,392.0 L2096.1,392.1 L2098.0,392.2 L2100.0,392.3 L2102.0,392.4 L2104.0,392.5 L2106.0,392.6 L2108.0,392.7 L2109.9,392.8 L2111.9,393.0 L2113.9,393.1 L2115.9,393.2 L2117.9,393.3 L2119.9,393.4 L2121.8,393.5 L2123.8,393.6 L2125.8,393.7 L2127.8,393.9 L2129.8,394.0 L2131.8,394.1 L2133.7,394.2 L2135.7,394.3 L2137.7,394.4 L2139.7,394.6 L2141.7,394.7 L2143.7,394.8 L2145.6,394.9 L2147.6,395.1 L2149.6,395.2 L2151.6,395.3 L2153.6,395.5 L2155.6,395.6 L2157.5,395.7 L2159.5,395.9 L2161.5,396.0 L2163.5,396.1 L2165.5,396.3 L2167.5,396.4 L2169.4,396.6 L2171.4,396.7 L2173.4,396.9 L2175.4,397.0 L2177.4,397.2 L2179.4,397.3 L2181.3,397.5 L2183.3,397.6 L2185.3,397.8 L2187.3,397.9 L2189.3,398.1 L2191.3,398.3 L2193.3,398.4 L2195.2,398.6 L2197.2,398.8 L2200.0,398.7" fill="none" stroke="#ff0000" stroke-width="11.5" stroke-linecap="butt" stroke-linejoin="round"/>
<path d="M327.0,78.3 L330.0,78.6 L331.8,78.7 L333.6,78.9 L335.4,79.1 L337.3,79.4 L339.1,79.7 L340.9,80.0 L342.8,80.3 L344.6,80.7 L346.4,81.2 L348.3,81.6 L350.1,82.1 L351.9,82.6 L353.8,83.2 L355.6,83.8 L357.5,84.4 L359.3,85.0 L361.2,85.6 L363.0,86.3 L364.9,87.0 L366.8,87.6 L368.6,88.4 L370.5,89.1 L372.4,89.8 L374.2,90.6 L376.1,91.3 L378.0,92.1 L379.9,92.9 L381.7,93.6 L383.6,94.4 L385.5,95.2 L387.4,96.0 L389.3,96.8 L391.2,97.6 L393.0,98.4 L394.9,99.1 L396.8,99.9 L398.7,100.7 L400.6,101.4 L402.5,102.2 L404.4,102.9 L406.3,103.6 L408.2,104.3 L410.1,105.1 L412.0,105.8 L414.0,106.5 L415.9,107.2 L417.8,107.8 L419.7,108.5 L421.6,109.2 L423.5,109.8 L425.4,110.5 L427.4,111.1 L429.3,111.7 L431.2,112.3 L433.1,112.9 L435.1,113.5 L437.0,114.1 L438.9,114.7 L440.9,115.3 L442.8,115.8 L444.7,116.4 L446.7,116.9 L448.6,117.4 L450.6,118.0 L452.5,118.5 L454.4,119.0 L456.4,119.4 L458.3,119.9 L460.3,120.4 L462.2,120.8 L464.2,121.3 L466.1,121.7 L468.1,122.1 L470.0,122.5 L472.0,122.9 L473.9,123.3 L475.9,123.7 L477.9,124.0 L479.8,124.4 L481.8,124.7 L483.7,125.0 L485.7,125.3 L487.7,125.6 L489.6,125.9 L491.6,126.2 L493.6,126.5 L495.5,126.7 L497.5,127.0 L499.5,127.2 L501.5,127.5 L503.4,127.7 L505.4,127.9 L507.4,128.1 L509.4,128.3 L511.3,128.5 L513.3,128.7 L515.3,128.9 L517.3,129.1 L519.2,129.3 L521.2,129.4 L523.2,129.6 L525.2,129.7 L527.2,129.9 L529.2,130.0 L531.1,130.2 L533.1,130.3 L535.1,130.4 L537.1,130.5 L539.1,130.7 L541.1,130.8 L543.1,130.9 L545.1,131.0 L547.1,131.1 L549.0,131.2 L551.0,131.3 L553.0,131.4 L555.0,131.5 L557.0,131.6 L559.0,131.7 L561.0,131.8 L563.0,131.9 L565.0,132.0 L567.0,132.1 L569.0,132.1 L571.0,132.2 L573.0,132.3 L575.0,132.4 L577.0,132.5 L579.0,132.6 L581.0,132.7 L583.0,132.8 L585.0,132.9 L587.0,133.0 L589.0,133.1 L591.0,133.2 L593.0,133.3 L595.0,133.5 L597.0,133.6 L599.0,133.7 L601.0,133.8 L603.0,133.9 L605.0,134.1 L607.0,134.2 L609.0,134.3 L611.0,134.5 L613.0,134.6 L615.0,134.8 L617.0,134.9 L619.0,135.1 L621.0,135.2 L623.0,135.4 L625.0,135.6 L627.0,135.7 L629.0,135.9 L631.0,136.1 L633.0,136.3 L635.0,136.4 L637.0,136.6 L639.0,136.8 L641.0,137.0 L643.0,137.2 L645.0,137.4 L647.0,137.6 L649.0,137.8 L651.0,138.0 L653.0,138.2 L655.0,138.4 L657.0,138.6 L659.0,138.8 L661.0,139.1 L663.0,139.3 L665.0,139.5 L667.0,139.7 L669.0,140.0 L671.0,140.2 L673.0,140.4 L675.0,140.7 L677.0,140.9 L679.0,141.1 L681.0,141.4 L682.9,141.6 L684.9,141.9 L686.9,142.2 L688.9,142.4 L690.9,142.7 L692.9,142.9 L694.9,143.2 L696.9,143.5 L698.9,143.7 L700.9,144.0 L702.8,144.3 L704.8,144.6 L706.8,144.8 L708.8,145.1 L710.8,145.4 L712.8,145.7 L714.8,146.0 L716.7,146.3 L718.7,146.6 L720.7,146.9 L722.7,147.2 L724.7,147.5 L726.6,147.8 L728.6,148.1 L730.6,148.4 L732.6,148.7 L734.5,149.0 L736.5,149.3 L738.5,149.7 L740.4,150.0 L742.4,150.3 L744.4,150.6 L746.4,151.0 L748.3,151.3 L750.3,151.6 L752.2,152.0 L754.2,152.3 L756.2,152.7 L758.1,153.0 L760.1,153.4 L762.1,153.7 L764.0,154.1 L766.0,154.5 L767.9,154.8 L769.9,155.2 L771.8,155.6 L773.8,156.0 L775.7,156.4 L777.7,156.8 L779.6,157.2 L781.6,157.6 L783.5,158.0 L785.5,158.4 L787.4,158.8 L789.3,159.2 L791.3,159.6 L793.2,160.1 L795.1,160.5 L797.1,160.9 L799.0,161.4 L800.9,161.8 L802.9,162.3 L804.8,162.7 L806.7,163.2 L808.6,163.7 L810.6,164.1 L812.5,164.6 L814.4,165.1 L816.3,165.6 L818.2,166.1 L820.2,166.6 L822.1,167.1 L824.0,167.6 L825.9,168.2 L827.8,168.7 L829.7,169.2 L831.6,169.8 L833.5,170.3 L835.4,170.9 L837.3,171.4 L839.2,172.0 L841.1,172.6 L843.0,173.2 L844.9,173.7 L846.8,174.3 L848.7,174.9 L850.5,175.6 L852.4,176.2 L854.3,176.8 L856.2,177.4 L858.1,178.1 L859.9,178.7 L861.8,179.4 L863.7,180.0 L865.6,180.7 L867.4,181.4 L869.3,182.1 L871.1,182.8 L873.0,183.5 L874.9,184.2 L876.7,184.9 L878.6,185.6 L880.4,186.3 L882.3,187.1 L884.1,187.8 L886.0,188.6 L887.8,189.4 L889.6,190.1 L891.5,190.9 L893.3,191.7 L895.2,192.5 L897.0,193.3 L898.8,194.2 L900.6,195.0 L902.5,195.8 L904.3,196.7 L906.1,197.5 L907.9,198.4 L909.7,199.3 L911.5,200.1 L913.4,201.0 L915.2,201.9 L917.0,202.8 L918.8,203.7 L920.6,204.6 L922.4,205.5 L924.2,206.4 L926.0,207.4 L927.8,208.3 L929.6,209.2 L931.4,210.2 L933.2,211.1 L935.0,212.0 L936.7,213.0 L938.5,213.9 L940.3,214.9 L942.1,215.9 L943.9,216.8 L945.7,217.8 L947.4,218.8 L949.2,219.7 L951.0,220.7 L952.8,221.7 L954.6,222.7 L956.3,223.6 L958.1,224.6 L959.9,225.6 L961.7,226.6 L963.4,227.6 L965.2,228.6 L967.0,229.5 L968.7,230.5 L970.5,231.5 L972.3,232.5 L974.1,233.5 L975.8,234.5 L977.6,235.5 L979.4,236.4 L981.1,237.4 L982.9,238.4 L984.7,239.4 L986.4,240.3 L988.2,241.3 L990.0,242.3 L991.7,243.3 L993.5,244.2 L995.2,245.2 L997.0,246.1 L998.8,247.1 L1000.5,248.0 L1002.3,249.0 L1004.1,249.9 L1005.8,250.9 L1007.6,251.8 L1009.4,252.8 L1011.1,253.7 L1012.9,254.6 L1014.6,255.5 L1016.4,256.5 L1018.2,257.4 L1019.9,258.3 L1021.7,259.3 L1023.4,260.2 L1025.2,261.1 L1027.0,262.0 L1028.7,263.0 L1030.5,263.9 L1032.2,264.8 L1034.0,265.7 L1035.7,266.7 L1037.5,267.6 L1039.2,268.5 L1040.9,269.5 L1042.7,270.4 L1044.4,271.4 L1046.1,272.3 L1047.9,273.3 L1049.6,274.2 L1051.3,275.2 L1053.1,276.2 L1054.8,277.1 L1056.5,278.1 L1058.2,279.1 L1059.9,280.1 L1061.6,281.1 L1063.3,282.1 L1065.0,283.1 L1066.7,284.1 L1068.4,285.1 L1070.1,286.2 L1071.8,287.2 L1073.5,288.3 L1075.2,289.3 L1076.9,290.4 L1078.5,291.4 L1080.2,292.5 L1081.9,293.6 L1083.5,294.7 L1085.2,295.8 L1086.8,296.9 L1088.5,298.0 L1090.1,299.1 L1091.7,300.3 L1093.4,301.4 L1095.0,302.6 L1096.6,303.7 L1098.2,304.9 L1099.8,306.0 L1101.4,307.2 L1103.0,308.4 L1104.6,309.6 L1106.2,310.8 L1107.8,312.0 L1109.4,313.2 L1110.9,314.5 L1112.5,315.7 L1114.1,316.9 L1115.6,318.2 L1117.2,319.4 L1118.7,320.7 L1120.2,322.0 L1121.8,323.3 L1123.3,324.6 L1124.8,325.9 L1126.3,327.2 L1127.8,328.5 L1129.3,329.8 L1130.8,331.1 L1132.3,332.5 L1133.7,333.8 L1135.2,335.2 L1136.6,336.6 L1138.1,337.9 L1139.5,339.3 L1141.0,340.7 L1142.4,342.1 L1143.8,343.5 L1145.2,344.9 L1146.6,346.4 L1148.0,347.8 L1149.4,349.2 L1150.8,350.7 L1152.1,352.1 L1153.5,353.6 L1154.9,355.1 L1156.2,356.6 L1157.5,358.1 L1158.9,359.6 L1160.2,361.1 L1161.5,362.6 L1162.8,364.1 L1164.1,365.6 L1165.4,367.2 L1166.7,368.7 L1168.0,370.2 L1169.2,371.8 L1170.5,373.4 L1171.8,374.9 L1173.0,376.5 L1174.2,378.1 L1175.5,379.7 L1176.7,381.3 L1177.9,382.9 L1179.1,384.5 L1180.3,386.1 L1181.5,387.7 L1182.7,389.3 L1183.9,391.0 L1185.1,392.6 L1186.2,394.2 L1187.4,395.9 L1188.5,397.5 L1189.7,399.2 L1190.8,400.8 L1191.9,402.5 L1193.1,404.2 L1194.2,405.9 L1195.3,407.5 L1196.4,409.2 L1197.5,410.9 L1198.6,412.6 L1199.6,414.3 L1200.7,416.0 L1201.8,417.7 L1202.8,419.5 L1203.9,421.2 L1204.9,422.9 L1206.0,424.6 L1207.0,426.3 L1208.0,428.1 L1209.0,429.8 L1210.0,431.6 L1211.0,433.3 L1212.0,435.0 L1213.0,436.8 L1214.0,438.6 L1214.9,440.3 L1215.9,442.1 L1216.9,443.8 L1217.8,445.6 L1218.8,447.4 L1219.7,449.1 L1220.6,450.9 L1221.6,452.7 L1222.5,454.5 L1223.4,456.3 L1224.3,458.0 L1225.2,459.8 L1226.1,461.6 L1227.0,463.4 L1227.8,465.2 L1228.7,467.0 L1229.6,468.8 L1230.4,470.6 L1231.3,472.4 L1232.1,474.2 L1233.0,476.0 L1233.8,477.8 L1234.6,479.6 L1235.5,481.4 L1236.3,483.3 L1237.1,485.1 L1237.9,486.9 L1238.7,488.7 L1239.5,490.5 L1240.3,492.4 L1241.1,494.2 L1241.9,496.0 L1242.7,497.9 L1243.4,499.7 L1244.2,501.5 L1245.0,503.4 L1245.8,505.2 L1246.5,507.0 L1247.3,508.9 L1248.0,510.7 L1248.8,512.6 L1249.5,514.4 L1250.2,516.2 L1251.0,518.1 L1251.7,519.9 L1252.4,521.8 L1253.2,523.7 L1253.9,525.5 L1254.6,527.4 L1255.3,529.2 L1256.0,531.1 L1256.7,532.9 L1257.5,534.8 L1258.2,536.7 L1258.9,538.5 L1259.6,540.4 L1260.3,542.2 L1260.9,544.1 L1261.6,546.0 L1262.3,547.8 L1263.0,549.7 L1263.7,551.6 L1264.4,553.5 L1265.1,555.3 L1265.7,557.2 L1266.4,559.1 L1267.1,560.9 L1267.8,562.8 L1268.4,564.7 L1269.1,566.6 L1269.8,568.5 L1270.4,570.3 L1271.1,572.2 L1271.8,574.1 L1272.4,576.0 L1273.1,577.8 L1273.8,579.7 L1274.4,581.6 L1275.1,583.5 L1275.8,585.4 L1276.4,587.2 L1277.1,589.1 L1277.7,591.0 L1278.4,592.9 L1279.1,594.8 L1279.7,596.7 L1280.4,598.5 L1281.0,600.4 L1281.7,602.3 L1282.4,604.2 L1283.0,606.1 L1283.7,608.0 L1284.4,609.9 L1285.0,611.7 L1285.7,613.6 L1286.3,615.5 L1287.0,617.4 L1287.7,619.3 L1288.4,621.2 L1289.0,623.0 L1289.7,624.9 L1290.4,626.8 L1291.0,628.7 L1291.7,630.6 L1292.4,632.5 L1293.1,634.3 L1293.7,636.2 L1294.4,638.1 L1295.1,640.0 L1295.8,641.9 L1296.5,643.7 L1297.2,645.6 L1297.9,647.5 L1298.6,649.4 L1299.3,651.2 L1300.0,653.1 L1300.7,655.0 L1301.4,656.9 L1302.1,658.7 L1302.8,660.6 L1303.5,662.5 L1304.2,664.4 L1305.0,666.2 L1305.7,668.1 L1306.4,670.0 L1307.1,671.8 L1307.9,673.7 L1308.6,675.6 L1309.4,677.4 L1310.1,679.3 L1310.9,681.2 L1311.6,683.0 L1312.4,684.9 L1313.1,686.8 L1313.9,688.6 L1314.7,690.5 L1315.4,692.3 L1316.2,694.2 L1317.0,696.0 L1317.8,697.9 L1318.6,699.7 L1319.4,701.6 L1320.2,703.4 L1321.0,705.3 L1321.8,707.1 L1322.6,709.0 L1323.5,710.8 L1324.3,712.6 L1325.1,714.5 L1326.0,716.3 L1326.8,718.1 L1327.7,719.9 L1328.6,721.7 L1329.4,723.6 L1330.3,725.4 L1331.2,727.2 L1332.1,729.0 L1333.0,730.8 L1333.9,732.6 L1334.8,734.4 L1335.7,736.1 L1336.7,737.9 L1337.6,739.7 L1338.5,741.5 L1339.5,743.2 L1340.5,745.0 L1341.4,746.7 L1342.4,748.5 L1343.4,750.2 L1344.4,752.0 L1345.4,753.7 L1346.4,755.4 L1347.4,757.1 L1348.5,758.8 L1349.5,760.5 L1350.6,762.2 L1351.6,763.9 L1352.7,765.6 L1353.8,767.3 L1354.9,768.9 L1356.0,770.6 L1357.1,772.2 L1358.2,773.9 L1359.4,775.5 L1360.5,777.1 L1361.7,778.7 L1362.9,780.3 L1364.0,781.9 L1365.2,783.5 L1366.4,785.1 L1367.7,786.7 L1368.9,788.2 L1370.1,789.8 L1371.4,791.3 L1372.7,792.8 L1373.9,794.3 L1375.2,795.9 L1376.5,797.3 L1377.9,798.8 L1379.2,800.3 L1380.5,801.8 L1381.9,803.2 L1383.3,804.7 L1384.6,806.1 L1386.0,807.5 L1387.5,808.9 L1388.9,810.3 L1390.3,811.7 L1391.8,813.0 L1393.2,814.4 L1394.7,815.7 L1396.2,817.1 L1397.7,818.4 L1399.2,819.7 L1400.7,821.0 L1402.3,822.3 L1403.8,823.5 L1405.4,824.8 L1407.0,826.0 L1408.5,827.2 L1410.1,828.5 L1411.7,829.7 L1413.4,830.8 L1415.0,832.0 L1416.6,833.2 L1418.2,834.3 L1419.9,835.4 L1421.6,836.5 L1423.2,837.6 L1424.9,838.7 L1426.6,839.8 L1428.3,840.8 L1430.0,841.8 L1431.7,842.9 L1433.4,843.9 L1435.1,844.8 L1436.9,845.8 L1438.6,846.8 L1440.3,847.7 L1442.1,848.6 L1443.9,849.5 L1445.6,850.4 L1447.4,851.3 L1449.2,852.1 L1451.0,852.9 L1452.7,853.8 L1454.5,854.6 L1456.3,855.4 L1458.1,856.1 L1459.9,856.9 L1461.8,857.6 L1463.6,858.4 L1465.4,859.1 L1467.2,859.9 L1469.0,860.6 L1470.9,861.3 L1472.7,862.0 L1474.5,862.8 L1476.4,863.5 L1478.2,864.2 L1480.1,864.9 L1481.9,865.7 L1483.8,866.4 L1485.6,867.2 L1487.5,867.9 L1489.3,868.6 L1491.2,869.4 L1493.0,870.2 L1494.9,870.9 L1496.8,871.7 L1498.6,872.4 L1500.5,873.2 L1502.4,874.0 L1504.2,874.8 L1506.1,875.5 L1508.0,876.3 L1509.8,877.1 L1511.7,877.9 L1513.6,878.7 L1515.5,879.4 L1517.3,880.2 L1519.2,881.0 L1521.1,881.8 L1523.0,882.6 L1524.9,883.4 L1526.7,884.2 L1528.6,885.0 L1530.5,885.8 L1532.4,886.5 L1534.3,887.3 L1536.1,888.1 L1538.0,888.9 L1539.9,889.7 L1541.8,890.5 L1543.7,891.3 L1545.5,892.1 L1547.4,892.9 L1549.3,893.6 L1551.2,894.4 L1553.1,895.2 L1554.9,896.0 L1556.8,896.8 L1558.7,897.5 L1560.6,898.3 L1562.4,899.1 L1564.3,899.9 L1566.2,900.6 L1568.1,901.4 L1569.9,902.1 L1571.8,902.9 L1573.7,903.7 L1575.5,904.4 L1577.4,905.2 L1579.3,905.9 L1581.1,906.7 L1583.0,907.4 L1584.8,908.1 L1586.7,908.9 L1588.6,909.6 L1590.4,910.4 L1592.3,911.1 L1594.1,911.9 L1596.0,912.6 L1597.8,913.4 L1599.7,914.1 L1601.5,914.9 L1603.3,915.6 L1605.2,916.4 L1607.0,917.1 L1608.8,917.9 L1610.7,918.7 L1612.5,919.4 L1614.3,920.2 L1616.1,921.0 L1617.9,921.8 L1619.8,922.5 L1621.6,923.3 L1623.4,924.1 L1625.2,924.9 L1627.0,925.7 L1628.8,926.5 L1630.6,927.4 L1632.4,928.2 L1634.1,929.0 L1635.9,929.9 L1637.7,930.7 L1639.5,931.6 L1641.2,932.4 L1643.0,933.3 L1644.8,934.2 L1646.5,935.1 L1648.3,936.0 L1650.0,936.9 L1651.8,937.8 L1653.5,938.7 L1655.3,939.7 L1657.0,940.6 L1658.7,941.6 L1660.5,942.5 L1662.2,943.5 L1663.9,944.5 L1665.6,945.4 L1667.3,946.4 L1669.1,947.4 L1670.8,948.4 L1672.5,949.4 L1674.2,950.4 L1675.9,951.5 L1677.6,952.5 L1679.3,953.5 L1681.0,954.5 L1682.7,955.6 L1684.4,956.6 L1686.0,957.7 L1687.7,958.7 L1689.4,959.8 L1691.1,960.9 L1692.8,961.9 L1694.4,963.0 L1696.1,964.1 L1697.8,965.1 L1699.5,966.2 L1701.1,967.3 L1702.8,968.4 L1704.5,969.5 L1706.1,970.6 L1707.8,971.7 L1709.5,972.8 L1711.1,973.9 L1712.8,975.0 L1714.5,976.1 L1716.1,977.2 L1717.8,978.4 L1719.4,979.5 L1721.1,980.6 L1722.8,981.7 L1724.4,982.8 L1726.1,984.0 L1727.7,985.1 L1729.4,986.2 L1731.0,987.3 L1732.7,988.4 L1734.4,989.6 L1736.0,990.7 L1737.7,991.8 L1739.3,992.9 L1741.0,994.1 L1742.7,995.2 L1744.3,996.3 L1746.0,997.4 L1747.7,998.6 L1749.3,999.7 L1751.0,1000.8 L1752.7,1001.9 L1754.3,1003.0 L1756.0,1004.1 L1757.7,1005.2 L1759.4,1006.4 L1761.1,1007.5 L1762.8,1008.6 L1764.5,1009.7 L1766.2,1010.8 L1767.9,1011.9 L1769.6,1012.9 L1771.3,1014.0 L1773.0,1015.1 L1774.7,1016.2 L1776.4,1017.3 L1778.2,1018.3 L1779.9,1019.4 L1781.6,1020.5 L1783.4,1021.5 L1785.1,1022.6 L1786.9,1023.6 L1788.6,1024.7 L1790.4,1025.7 L1792.1,1026.7 L1793.9,1027.7 L1795.7,1028.7 L1797.4,1029.7 L1799.2,1030.7 L1801.0,1031.7 L1802.8,1032.7 L1804.6,1033.7 L1806.4,1034.6 L1808.2,1035.6 L1810.0,1036.5 L1811.8,1037.4 L1813.6,1038.3 L1815.4,1039.2 L1817.2,1040.1 L1819.0,1041.0 L1820.8,1041.8 L1822.7,1042.7 L1824.5,1043.5 L1826.3,1044.4 L1828.2,1045.2 L1830.0,1046.0 L1831.8,1046.7 L1833.7,1047.5 L1835.5,1048.3 L1837.4,1049.0 L1839.2,1049.7 L1841.1,1050.4 L1843.0,1051.1 L1844.8,1051.8 L1846.7,1052.4 L1848.6,1053.0 L1850.4,1053.7 L1852.3,1054.3 L1854.2,1054.8 L1856.1,1055.4 L1858.0,1055.9 L1859.9,1056.5 L1861.8,1057.0 L1863.7,1057.5 L1865.6,1057.9 L1867.5,1058.4 L1869.4,1058.8 L1871.3,1059.2 L1873.2,1059.6 L1875.1,1060.0 L1877.0,1060.4 L1878.9,1060.7 L1880.8,1061.0 L1882.8,1061.4 L1884.7,1061.7 L1886.6,1062.0 L1888.5,1062.2 L1890.5,1062.5 L1892.4,1062.8 L1894.3,1063.0 L1896.3,1063.2 L1898.2,1063.4 L1900.2,1063.7 L1902.1,1063.8 L1904.1,1064.0 L1906.0,1064.2 L1908.0,1064.4 L1909.9,1064.5 L1911.9,1064.7 L1913.8,1064.8 L1915.8,1065.0 L1917.8,1065.1 L1919.7,1065.2 L1921.7,1065.3 L1923.7,1065.5 L1925.6,1065.6 L1927.6,1065.7 L1929.6,1065.8 L1931.6,1065.9 L1933.5,1065.9 L1935.5,1066.0 L1937.5,1066.1 L1939.5,1066.2 L1941.5,1066.3 L1943.5,1066.3 L1945.4,1066.4 L1947.4,1066.5 L1949.4,1066.6 L1951.4,1066.6 L1953.4,1066.7 L1955.4,1066.8 L1957.4,1066.9 L1959.4,1066.9 L1961.4,1067.0 L1963.4,1067.1 L1965.4,1067.2 L1967.4,1067.3 L1969.4,1067.4 L1971.4,1067.5 L1973.4,1067.6 L1975.4,1067.7 L1977.4,1067.8 L1979.5,1067.9 L1981.5,1068.0 L1983.5,1068.1 L1985.5,1068.2 L1987.5,1068.3 L1989.5,1068.5 L1991.5,1068.6 L1993.5,1068.7 L1995.6,1068.8 L1997.6,1069.0 L1999.6,1069.1 L2001.6,1069.2 L2003.6,1069.4 L2005.7,1069.5 L2007.7,1069.6 L2009.7,1069.8 L2011.7,1069.9 L2013.7,1070.1 L2015.8,1070.2 L2017.8,1070.4 L2019.8,1070.5 L2021.8,1070.7 L2023.9,1070.8 L2025.9,1071.0 L2027.9,1071.1 L2029.9,1071.3 L2032.0,1071.4 L2034.0,1071.6 L2036.0,1071.8 L2038.0,1071.9 L2040.1,1072.1 L2042.1,1072.3 L2044.1,1072.4 L2046.2,1072.6 L2048.2,1072.7 L2050.2,1072.9 L2052.2,1073.1 L2054.3,1073.2 L2056.3,1073.4 L2058.3,1073.6 L2060.3,1073.7 L2062.4,1073.9 L2064.4,1074.1 L2066.4,1074.2 L2068.4,1074.4 L2070.5,1074.6 L2072.5,1074.7 L2074.5,1074.9 L2076.5,1075.1 L2078.6,1075.2 L2080.6,1075.4 L2082.6,1075.6 L2084.6,1075.7 L2086.6,1075.9 L2088.7,1076.0 L2090.7,1076.2 L2092.7,1076.4 L2094.7,1076.5 L2096.7,1076.7 L2098.7,1076.8 L2100.8,1077.0 L2102.8,1077.1 L2104.8,1077.3 L2106.8,1077.4 L2108.8,1077.6 L2110.8,1077.7 L2112.8,1077.9 L2114.8,1078.0 L2116.8,1078.2 L2118.9,1078.3 L2120.9,1078.5 L2122.9,1078.6 L2124.9,1078.7 L2126.9,1078.9 L2128.9,1079.0 L2130.9,1079.1 L2132.9,1079.2 L2134.9,1079.4 L2136.9,1079.5 L2138.8,1079.6 L2140.8,1079.7 L2142.8,1079.8 L2144.8,1079.9 L2146.8,1080.0 L2148.8,1080.2 L2150.8,1080.3 L2152.8,1080.4 L2154.7,1080.5 L2156.7,1080.5 L2158.7,1080.6 L2160.7,1080.7 L2162.6,1080.8 L2164.6,1080.9 L2166.6,1081.0 L2168.6,1081.0 L2170.5,1081.1 L2172.5,1081.2 L2174.4,1081.2 L2176.4,1081.3 L2178.4,1081.3 L2180.3,1081.4 L2182.3,1081.4 L2184.2,1081.5 L2186.2,1081.5 L2188.1,1081.5 L2190.1,1081.6 L2192.0,1081.6 L2194.0,1081.6 L2195.9,1081.6 L2197.8,1081.6 L2200.0,1081.8" fill="none" stroke="#0000ff" stroke-width="11.5" stroke-linecap="butt" stroke-linejoin="round"/>
</g>
<g stroke="#1c1c1c" fill="none">
<line x1="275" y1="75.3" x2="2206" y2="75.3" stroke-width="5"/>
<line x1="275" y1="1601.5" x2="2206" y2="1601.5" stroke-width="4.6"/>
<line x1="308" y1="73" x2="308" y2="1603.5" stroke-width="6"/>
<line x1="2203" y1="73" x2="2203" y2="1633" stroke-width="5"/>
<line x1="290" y1="1570.5" x2="308" y2="1570.5" stroke-width="4"/>
<line x1="290" y1="1540.0" x2="308" y2="1540.0" stroke-width="4"/>
<line x1="290" y1="1509.4" x2="308" y2="1509.4" stroke-width="4"/>
<line x1="290" y1="1478.9" x2="308" y2="1478.9" stroke-width="4"/>
<line x1="276" y1="1448.4" x2="308" y2="1448.4" stroke-width="4"/>
<line x1="290" y1="1417.9" x2="308" y2="1417.9" stroke-width="4"/>
<line x1="290" y1="1387.4" x2="308" y2="1387.4" stroke-width="4"/>
<line x1="290" y1="1356.8" x2="308" y2="1356.8" stroke-width="4"/>
<line x1="290" y1="1326.3" x2="308" y2="1326.3" stroke-width="4"/>
<line x1="276" y1="1295.8" x2="308" y2="1295.8" stroke-width="4"/>
<line x1="290" y1="1265.3" x2="308" y2="1265.3" stroke-width="4"/>
<line x1="290" y1="1234.8" x2="308" y2="1234.8" stroke-width="4"/>
<line x1="290" y1="1204.2" x2="308" y2="1204.2" stroke-width="4"/>
<line x1="290" y1="1173.7" x2="308" y2="1173.7" stroke-width="4"/>
<line x1="276" y1="1143.2" x2="308" y2="1143.2" stroke-width="4"/>
<line x1="290" y1="1112.7" x2="308" y2="1112.7" stroke-width="4"/>
<line x1="290" y1="1082.2" x2="308" y2="1082.2" stroke-width="4"/>
<line x1="290" y1="1051.6" x2="308" y2="1051.6" stroke-width="4"/>
<line x1="290" y1="1021.1" x2="308" y2="1021.1" stroke-width="4"/>
<line x1="276" y1="990.6" x2="308" y2="990.6" stroke-width="4"/>
<line x1="290" y1="960.1" x2="308" y2="960.1" stroke-width="4"/>
<line x1="290" y1="929.6" x2="308" y2="929.6" stroke-width="4"/>
<line x1="290" y1="899.0" x2="308" y2="899.0" stroke-width="4"/>
<line x1="290" y1="868.5" x2="308" y2="868.5" stroke-width="4"/>
<line x1="276" y1="838.0" x2="308" y2="838.0" stroke-width="4"/>
<line x1="290" y1="807.5" x2="308" y2="807.5" stroke-width="4"/>
<line x1="290" y1="777.0" x2="308" y2="777.0" stroke-width="4"/>
<line x1="290" y1="746.4" x2="308" y2="746.4" stroke-width="4"/>
<line x1="290" y1="715.9" x2="308" y2="715.9" stroke-width="4"/>
<line x1="276" y1="685.4" x2="308" y2="685.4" stroke-width="4"/>
<line x1="290" y1="654.9" x2="308" y2="654.9" stroke-width="4"/>
<line x1="290" y1="624.4" x2="308" y2="624.4" stroke-width="4"/>
<line x1="290" y1="593.8" x2="308" y2="593.8" stroke-width="4"/>
<line x1="290" y1="563.3" x2="308" y2="563.3" stroke-width="4"/>
<line x1="276" y1="532.8" x2="308" y2="532.8" stroke-width="4"/>
<line x1="290" y1="502.3" x2="308" y2="502.3" stroke-width="4"/>
<line x1="290" y1="471.8" x2="308" y2="471.8" stroke-width="4"/>
<line x1="290" y1="441.2" x2="308" y2="441.2" stroke-width="4"/>
<line x1="290" y1="410.7" x2="308" y2="410.7" stroke-width="4"/>
<line x1="276" y1="380.2" x2="308" y2="380.2" stroke-width="4"/>
<line x1="290" y1="349.7" x2="308" y2="349.7" stroke-width="4"/>
<line x1="290" y1="319.2" x2="308" y2="319.2" stroke-width="4"/>
<line x1="290" y1="288.6" x2="308" y2="288.6" stroke-width="4"/>
<line x1="290" y1="258.1" x2="308" y2="258.1" stroke-width="4"/>
<line x1="276" y1="227.6" x2="308" y2="227.6" stroke-width="4"/>
<line x1="290" y1="197.1" x2="308" y2="197.1" stroke-width="4"/>
<line x1="290" y1="166.6" x2="308" y2="166.6" stroke-width="4"/>
<line x1="290" y1="136.0" x2="308" y2="136.0" stroke-width="4"/>
<line x1="290" y1="105.5" x2="308" y2="105.5" stroke-width="4"/>
<line x1="336.8" y1="1601" x2="336.8" y2="1618" stroke-width="5"/>
<line x1="393.4" y1="1601" x2="393.4" y2="1618" stroke-width="5"/>
<line x1="449.9" y1="1601" x2="449.9" y2="1618" stroke-width="5"/>
<line x1="506.5" y1="1601" x2="506.5" y2="1633" stroke-width="5"/>
<line x1="563.0" y1="1601" x2="563.0" y2="1618" stroke-width="5"/>
<line x1="619.6" y1="1601" x2="619.6" y2="1618" stroke-width="5"/>
<line x1="676.1" y1="1601" x2="676.1" y2="1618" stroke-width="5"/>
<line x1="732.7" y1="1601" x2="732.7" y2="1618" stroke-width="5"/>
<line x1="789.2" y1="1601" x2="789.2" y2="1633" stroke-width="5"/>
<line x1="845.8" y1="1601" x2="845.8" y2="1618" stroke-width="5"/>
<line x1="902.3" y1="1601" x2="902.3" y2="1618" stroke-width="5"/>
<line x1="958.9" y1="1601" x2="958.9" y2="1618" stroke-width="5"/>
<line x1="1015.5" y1="1601" x2="1015.5" y2="1618" stroke-width="5"/>
<line x1="1072.0" y1="1601" x2="1072.0" y2="1633" stroke-width="5"/>
<line x1="1128.5" y1="1601" x2="1128.5" y2="1618" stroke-width="5"/>
<line x1="1185.1" y1="1601" x2="1185.1" y2="1618" stroke-width="5"/>
<line x1="1241.7" y1="1601" x2="1241.7" y2="1618" stroke-width="5"/>
<line x1="1298.2" y1="1601" x2="1298.2" y2="1618" stroke-width="5"/>
<line x1="1354.8" y1="1601" x2="1354.8" y2="1633" stroke-width="5"/>
<line x1="1411.3" y1="1601" x2="1411.3" y2="1618" stroke-width="5"/>
<line x1="1467.8" y1="1601" x2="1467.8" y2="1618" stroke-width="5"/>
<line x1="1524.4" y1="1601" x2="1524.4" y2="1618" stroke-width="5"/>
<line x1="1580.9" y1="1601" x2="1580.9" y2="1618" stroke-width="5"/>
<line x1="1637.5" y1="1601" x2="1637.5" y2="1633" stroke-width="5"/>
<line x1="1694.0" y1="1601" x2="1694.0" y2="1618" stroke-width="5"/>
<line x1="1750.6" y1="1601" x2="1750.6" y2="1618" stroke-width="5"/>
<line x1="1807.2" y1="1601" x2="1807.2" y2="1618" stroke-width="5"/>
<line x1="1863.7" y1="1601" x2="1863.7" y2="1618" stroke-width="5"/>
<line x1="1920.2" y1="1601" x2="1920.2" y2="1633" stroke-width="5"/>
<line x1="1976.8" y1="1601" x2="1976.8" y2="1618" stroke-width="5"/>
<line x1="2033.3" y1="1601" x2="2033.3" y2="1618" stroke-width="5"/>
<line x1="2089.9" y1="1601" x2="2089.9" y2="1618" stroke-width="5"/>
<line x1="2146.4" y1="1601" x2="2146.4" y2="1618" stroke-width="5"/>
</g>
<g font-family="Liberation Serif, Times New Roman, serif" font-weight="bold" fill="#000" stroke="#fefefe" stroke-width="1.0">
<text transform="translate(259,1623.0) scale(0.9,1)" font-size="76" letter-spacing="2.2" text-anchor="end">50</text>
<text transform="translate(259,1470.4) scale(0.9,1)" font-size="76" letter-spacing="2.2" text-anchor="end">55</text>
<text transform="translate(259,1317.8) scale(0.9,1)" font-size="76" letter-spacing="2.2" text-anchor="end">60</text>
<text transform="translate(259,1165.2) scale(0.9,1)" font-size="76" letter-spacing="2.2" text-anchor="end">65</text>
<text transform="translate(259,1012.6) scale(0.9,1)" font-size="76" letter-spacing="2.2" text-anchor="end">70</text>
<text transform="translate(259,860.0) scale(0.9,1)" font-size="76" letter-spacing="2.2" text-anchor="end">75</text>
<text transform="translate(259,707.4) scale(0.9,1)" font-size="76" letter-spacing="2.2" text-anchor="end">80</text>
<text transform="translate(259,554.8) scale(0.9,1)" font-size="76" letter-spacing="2.2" text-anchor="end">85</text>
<text transform="translate(259,402.2) scale(0.9,1)" font-size="76" letter-spacing="2.2" text-anchor="end">90</text>
<text transform="translate(259,249.6) scale(0.9,1)" font-size="76" letter-spacing="2.2" text-anchor="end">95</text>
<text transform="translate(259,97.0) scale(0.9,1)" font-size="76" letter-spacing="2.2" text-anchor="end">100</text>
<text transform="translate(508.5,1709) scale(0.9,1)" font-size="76" letter-spacing="2.2" text-anchor="middle">100</text>
<text transform="translate(791.2,1709) scale(0.9,1)" font-size="76" letter-spacing="2.2" text-anchor="middle">200</text>
<text transform="translate(1074.0,1709) scale(0.9,1)" font-size="76" letter-spacing="2.2" text-anchor="middle">300</text>
<text transform="translate(1356.8,1709) scale(0.9,1)" font-size="76" letter-spacing="2.2" text-anchor="middle">400</text>
<text transform="translate(1639.5,1709) scale(0.9,1)" font-size="76" letter-spacing="2.2" text-anchor="middle">500</text>
<text transform="translate(1922.2,1709) scale(0.9,1)" font-size="76" letter-spacing="2.2" text-anchor="middle">600</text>
<text transform="translate(2205.0,1709) scale(0.9,1)" font-size="76" letter-spacing="2.2" text-anchor="middle">700</text>
<text transform="translate(1255.5,1843) scale(0.963,1)" font-size="90" text-anchor="middle">Temperature (°C)</text>
<text transform="translate(102.6,772.5) rotate(-90) scale(0.971,1)" font-size="90" text-anchor="middle">Weight (%)</text>
<text transform="translate(2183,199.7) scale(0.99,1)" font-size="54" stroke-width="0.6" text-anchor="end">MNPsFe<tspan font-size="30" dy="20" stroke-width="0">3</tspan><tspan dy="-20">O</tspan><tspan font-size="30" dy="20" stroke-width="0">4</tspan><tspan dy="-20">-SiO</tspan><tspan font-size="30" dy="20" stroke-width="0">2</tspan></text>
<text transform="translate(2183,475.7) scale(0.99,1)" font-size="54" stroke-width="0.6" text-anchor="end">MNPsFe<tspan font-size="30" dy="20" stroke-width="0">3</tspan><tspan dy="-20">O</tspan><tspan font-size="30" dy="20" stroke-width="0">4</tspan><tspan dy="-20">-SiO</tspan><tspan font-size="30" dy="20" stroke-width="0">2</tspan><tspan dy="-20">-VTMS</tspan></text>
<text transform="translate(2185,1167.1) scale(0.99,1)" font-size="54" stroke-width="0.6" text-anchor="end">MNPsFe<tspan font-size="30" dy="20" stroke-width="0">3</tspan><tspan dy="-20">O</tspan><tspan font-size="30" dy="20" stroke-width="0">4</tspan><tspan dy="-20">-SiO</tspan><tspan font-size="30" dy="20" stroke-width="0">2</tspan><tspan dy="-20">-poly(NVCL-co-MAA)</tspan></text>
</g>
</g>
</svg>
</body></html>
